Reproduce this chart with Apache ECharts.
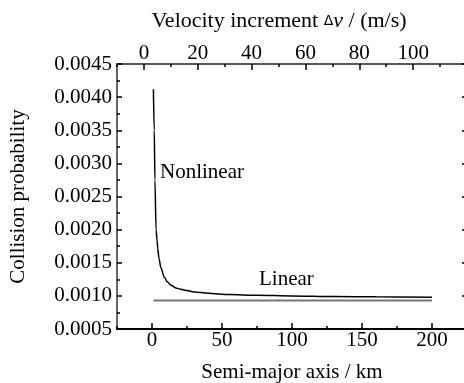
<!DOCTYPE html>
<html>
<head>
<meta charset="utf-8">
<script src="https://cdn.jsdelivr.net/npm/echarts@6/dist/echarts.min.js"></script>
<style>
  html, body { margin: 0; padding: 0; background: #fff; }
  #chart { width: 464px; height: 383px; }
</style>
</head>
<body>
<div id="chart"></div>
<script>
  // semi-major axis (km) and collision probability
  var semiMajor = [1, 1.6, 2.1, 2.9, 3.6, 4.1, 5, 6.4, 8.8, 11, 13.6, 17, 20.7, 25, 30, 40, 55, 75, 100, 130, 160, 200];
  var nonlinear = [0.00412, 0.0035, 0.00275, 0.0020, 0.00184, 0.00172, 0.00156, 0.00142, 0.00128, 0.00121,
                   0.00116, 0.00112, 0.00110, 0.00108, 0.00106, 0.00104, 0.00102, 0.00101, 0.00100,
                   0.00099, 0.000985, 0.00098];
  var linearX = [1, 200];
  var linearY = [0.00093, 0.00093];
  var curveLabels = ['Nonlinear', 'Linear'];
  var labelAt = [[35.7, 0.00287], [96, 0.00125]];

  var font = 'Liberation Serif';
  var chart = echarts.init(document.getElementById('chart'));

  function pairs(xs, ys) {
    return xs.map(function (x, i) { return [x, ys[i]]; });
  }

  function tagPoint(i) {
    return {
      symbol: 'circle',
      symbolSize: 0,
      silent: true,
      label: {
        show: true,
        position: 'inside',
        formatter: curveLabels[i],
        color: '#000',
        fontFamily: font,
        fontSize: 21
      },
      data: [{ coord: labelAt[i] }]
    };
  }

  var tickText = { color: '#000', fontFamily: font, fontSize: 21 };

  chart.setOption({
    animation: false,
    grid: { left: 117, top: 64, width: 350, height: 265, outerBoundsMode: 'none' },
    xAxis: [
      {
        type: 'value', position: 'bottom',
        min: -25, max: 225, splitNumber: 5, minInterval: 50, maxInterval: 50,
        axisLine: { onZero: false, lineStyle: { color: '#000', width: 2 } },
        axisTick: { inside: true, length: 6, lineStyle: { color: '#000', width: 1.5 } },
        axisLabel: Object.assign({ margin: 1, showMinLabel: false, showMaxLabel: false }, tickText),
        splitLine: { show: false },
        name: 'Semi-major axis / km', nameLocation: 'middle', nameGap: 33,
        nameTextStyle: tickText
      },
      {
        type: 'value', position: 'bottom',
        min: -25, max: 225, interval: 25,
        axisLine: { show: false, onZero: false },
        axisTick: { inside: true, length: 3, lineStyle: { color: '#000', width: 1.5 } },
        axisLabel: { show: false },
        splitLine: { show: false }
      },
      {
        type: 'value', position: 'top',
        min: -10, max: 120, splitNumber: 6, minInterval: 20, maxInterval: 20,
        axisLine: { onZero: false, lineStyle: { color: '#222', width: 1.5 } },
        axisTick: { inside: true, length: 6, lineStyle: { color: '#000', width: 1.5 } },
        axisLabel: Object.assign({ margin: 0, showMinLabel: false, showMaxLabel: false }, tickText),
        splitLine: { show: false },
        name: '{a|Velocity increment }{d|\u0394}{v|v}{a| / (m/s)}',
        nameLocation: 'middle', nameGap: 32,
        nameTextStyle: {
          padding: [0, 26, 0, 0],
          rich: {
            a: { color: '#000', fontFamily: font, fontSize: 22 },
            d: { color: '#000', fontFamily: 'DejaVu Sans', fontSize: 14 },
            v: { color: '#000', fontFamily: font, fontSize: 22, fontStyle: 'italic' }
          }
        }
      },
      {
        type: 'value', position: 'top',
        min: -10, max: 120, interval: 10,
        axisLine: { show: false, onZero: false },
        axisTick: { inside: true, length: 3, lineStyle: { color: '#000', width: 1.5 } },
        axisLabel: { show: false },
        splitLine: { show: false }
      }
    ],
    yAxis: [
      {
        type: 'value', position: 'left',
        min: 0.0005, max: 0.0045, interval: 0.0005,
        axisLine: { onZero: false, lineStyle: { color: '#333', width: 1.5 } },
        axisTick: { inside: true, length: 5, lineStyle: { color: '#000', width: 1.5 } },
        minorTick: { show: true, splitNumber: 2, length: 3, lineStyle: { color: '#000', width: 1.5 } },
        axisLabel: Object.assign({ margin: 5, formatter: function (v) { return v.toFixed(4); } }, tickText),
        splitLine: { show: false },
        name: 'Collision probability', nameLocation: 'middle', nameGap: 88, nameRotate: 90,
        nameTextStyle: tickText
      },
      {
        type: 'value', position: 'right',
        min: 0.0005, max: 0.0045, interval: 0.0005,
        axisLine: { onZero: false, lineStyle: { color: '#333', width: 1.5 } },
        axisTick: { inside: true, length: 5, lineStyle: { color: '#000', width: 1.5 } },
        minorTick: { show: true, splitNumber: 2, length: 3, lineStyle: { color: '#000', width: 1.5 } },
        axisLabel: { show: false },
        splitLine: { show: false }
      }
    ],
    series: [
      {
        name: 'Nonlinear',
        type: 'line',
        xAxisIndex: 0, yAxisIndex: 0,
        data: pairs(semiMajor, nonlinear),
        showSymbol: false,
        smooth: 0.3,
        smoothMonotone: 'x',
        lineStyle: { color: '#000', width: 1.5 },
        markPoint: tagPoint(0)
      },
      {
        name: 'Linear',
        type: 'line',
        xAxisIndex: 0, yAxisIndex: 0,
        data: pairs(linearX, linearY),
        showSymbol: false,
        lineStyle: { color: '#777', width: 2 },
        markPoint: tagPoint(1)
      }
    ]
  });
</script>
</body>
</html>
